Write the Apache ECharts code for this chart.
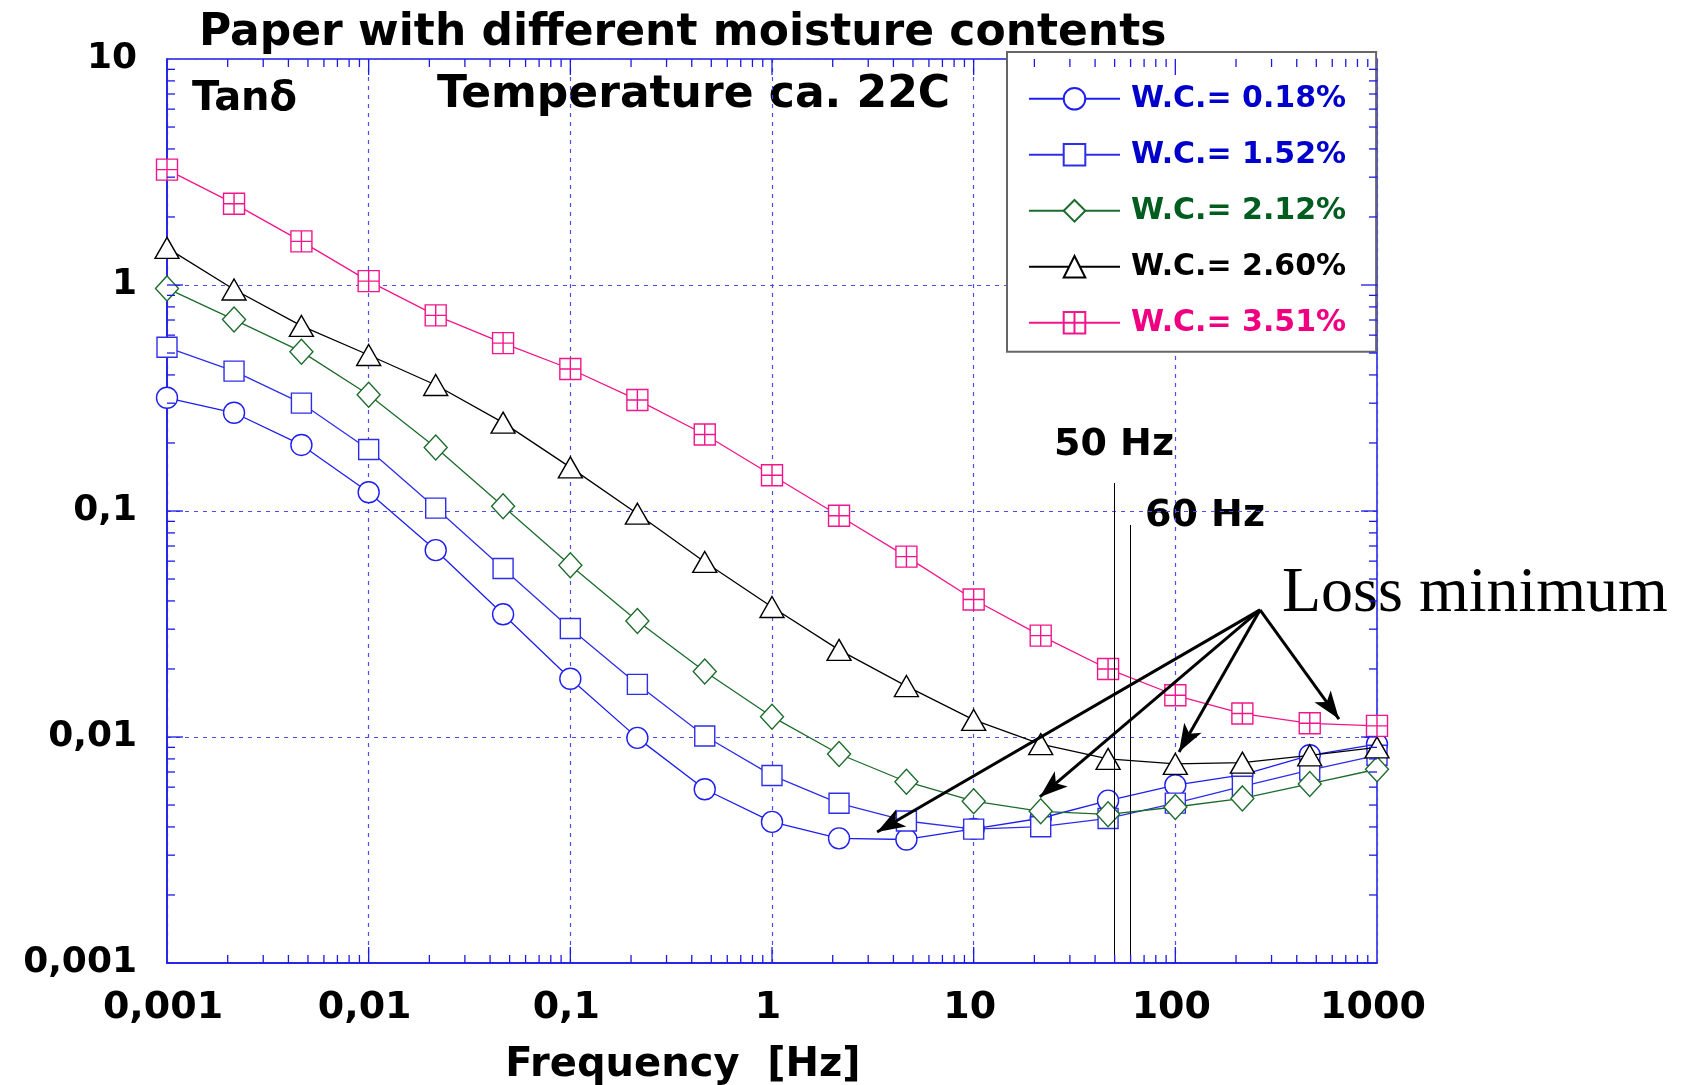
<!DOCTYPE html>
<html><head><meta charset="utf-8">
<script src="https://cdn.jsdelivr.net/npm/echarts@6/dist/echarts.min.js"></script>
<style>html,body{margin:0;padding:0;background:#fff}#c{width:1686px;height:1085px}</style>
</head><body><div id="c"></div>
<script>
// ---- data ----
const freq = [0.001, 0.00215, 0.00464, 0.01, 0.0215, 0.0464, 0.1, 0.215, 0.464, 1, 2.15, 4.64, 10, 21.5, 46.4, 100, 215, 464, 1000];
const wc018 = [0.317, 0.272, 0.196, 0.121, 0.0671, 0.0349, 0.0181, 0.00991, 0.00587, 0.00421, 0.00356, 0.00352, 0.00392, 0.00437, 0.00523, 0.00612, 0.0068, 0.0083, 0.0093];
const wc152 = [0.530, 0.416, 0.300, 0.187, 0.103, 0.0557, 0.0302, 0.0171, 0.0101, 0.00676, 0.00509, 0.00425, 0.00391, 0.00401, 0.00436, 0.0051, 0.00605, 0.00714, 0.0083];
const wc212 = [0.966, 0.703, 0.507, 0.327, 0.191, 0.105, 0.0575, 0.0326, 0.0195, 0.0123, 0.00841, 0.00634, 0.0052, 0.00469, 0.00455, 0.0049, 0.00535, 0.0062, 0.0072];
const wc260 = [1.46, 0.955, 0.659, 0.490, 0.361, 0.246, 0.156, 0.0973, 0.0595, 0.0376, 0.0243, 0.0168, 0.0119, 0.0093, 0.0080, 0.0076, 0.0077, 0.0083, 0.0090];
const wc351 = [3.24, 2.29, 1.56, 1.04, 0.734, 0.553, 0.425, 0.310, 0.218, 0.144, 0.0953, 0.0628, 0.0406, 0.0281, 0.0200, 0.0153, 0.0127, 0.0115, 0.0112];
const seriesNames = ['W.C.= 0.18%', 'W.C.= 1.52%', 'W.C.= 2.12%', 'W.C.= 2.60%', 'W.C.= 3.51%'];

const xTickValues = [0.001, 0.01, 0.1, 1, 10, 100, 1000];
const xTickLabels = ['0,001', '0,01', '0,1', '1', '10', '100', '1000'];
const yTickValues = [0.001, 0.01, 0.1, 1, 10];
const yTickLabels = ['0,001', '0,01', '0,1', '1', '10'];
const minorMultipliers = [2, 3, 4, 5, 6, 7, 8, 9];

// annotations (data coordinates)
const mainsLines = [{f: 50, top: 0.133}, {f: 60, top: 0.0867}];
const arrowStart = [263, 0.0365];
const arrowEnds = [[3.32, 0.0038], [21.3, 0.00543], [104.3, 0.00858], [648, 0.0120]];

// ---- helpers ----
function labelFor(values, labels, v) {
  let best = 0, bd = Infinity;
  values.forEach((t, i) => { const d = Math.abs(Math.log10(t) - Math.log10(v)); if (d < bd) { bd = d; best = i; } });
  return labels[best];
}
const tickData = [];
xTickValues.slice(0, -1).forEach((d, i) => {
  if (i > 0) tickData.push([d, 0.01, 0, 16]);
  minorMultipliers.forEach(m => tickData.push([d * m, 0.01, 0, 8]));
});
yTickValues.slice(0, -1).forEach((d, i) => {
  if (i > 0) tickData.push([1, d, 1, 16]);
  minorMultipliers.forEach(m => tickData.push([1, d * m, 1, 8]));
});

const FONT = "'DejaVu Sans', sans-serif";
const AXIS_BLUE = '#1a1ae6';
const GRID_BLUE = '#4d4de8';

const chart = echarts.init(document.getElementById('c'), null, {renderer: 'canvas'});

function mkSeries(name, vals, color, symbol, size, z) {
  return {
    name, type: 'line', data: freq.map((f, i) => [f, vals[i]]),
    symbol, symbolSize: size, showSymbol: true, z,
    lineStyle: {color, width: 1.3},
    itemStyle: {color: '#ffffff', borderColor: color, borderWidth: 1.4},
    emphasis: {disabled: true}, animation: false
  };
}

const pinkSym = 'path://M0,0L20,0L20,20L0,20Z M10,0L10,20 M0,10L20,10';

const series = [
  mkSeries(seriesNames[0], wc018, '#1e1ef0', 'circle', 21, 3),
  mkSeries(seriesNames[1], wc152, '#2e2ee8', 'rect', 20, 4),
  mkSeries(seriesNames[2], wc212, '#1c6b2c', 'diamond', [23, 25], 5),
  mkSeries(seriesNames[3], wc260, '#000000', 'triangle', [24, 21], 6),
  mkSeries(seriesNames[4], wc351, '#f2168a', pinkSym, [21, 21], 7)
];

// mains frequency lines + arrows
const mlData = mainsLines.map(m => [
  {coord: [m.f, m.top], symbol: 'none', lineStyle: {color: '#000', width: 1, type: 'solid'}},
  {coord: [m.f, 0.001], symbol: 'none'}
]).concat(arrowEnds.map(e => [
  {coord: arrowStart, symbol: 'none', lineStyle: {color: '#000', width: 3, type: 'solid'}},
  {coord: e, symbol: 'arrow', symbolSize: [15, 28]}
]));
series[3].markLine = {
  silent: true, animation: false, symbol: ['none', 'none'],
  label: {show: false}, emphasis: {disabled: true},
  lineStyle: {color: '#000', type: 'solid'},
  itemStyle: {color: '#000'},
  data: mlData, z: 8
};

series.push({
  type: 'custom', name: 'ticks', silent: true, clip: false, z: 9, animation: false,
  encode: {x: 0, y: 1},
  data: tickData,
  renderItem(params, api) {
    const cs = params.coordSys;
    const axis = api.value(2), len = api.value(3);
    const st = {stroke: AXIS_BLUE, lineWidth: 1.3};
    if (axis === 0) {
      const px = api.coord([api.value(0), 0.01])[0];
      const yb = cs.y + cs.height, yt = cs.y;
      return {type: 'group', children: [
        {type: 'line', shape: {x1: px, y1: yb, x2: px, y2: yb - len}, style: st},
        {type: 'line', shape: {x1: px, y1: yt, x2: px, y2: yt + len}, style: st}
      ]};
    } else {
      const py = api.coord([1, api.value(1)])[1];
      const xl = cs.x, xr = cs.x + cs.width;
      return {type: 'group', children: [
        {type: 'line', shape: {x1: xl, y1: py, x2: xl + len, y2: py}, style: st},
        {type: 'line', shape: {x1: xr, y1: py, x2: xr - len, y2: py}, style: st}
      ]};
    }
  }
});

const legendColors = ['#0000cc', '#0000cc', '#005c1f', '#000000', '#f00080'];

const option = {
  animation: false,
  backgroundColor: '#ffffff',
  title: {
    text: 'Paper with different moisture contents',
    left: 199, top: 12, padding: 0,
    textStyle: {fontFamily: FONT, fontWeight: 'bold', fontSize: 44, color: '#000'}
  },
  grid: {left: 167, right: 309, top: 59, bottom: 122, containLabel: false, outerBoundsMode: 'none',
    show: true, borderColor: AXIS_BLUE, borderWidth: 1.5, backgroundColor: 'transparent'},
  xAxis: {
    type: 'log', logBase: 10, min: 0.001, max: 1000,
    name: 'Frequency  [Hz]', nameLocation: 'middle', nameGap: 83,
    nameTextStyle: {fontFamily: FONT, fontWeight: 'bold', fontSize: 40, color: '#000', padding: [0, 178, 0, 0]},
    axisLine: {show: true, lineStyle: {color: AXIS_BLUE, width: 1.5}},
    axisTick: {show: false},
    minorTick: {show: false},
    splitLine: {show: true, lineStyle: {color: GRID_BLUE, type: [4, 5], width: 1.2}},
    axisLabel: {
      margin: 26, fontFamily: FONT, fontWeight: 'bold', fontSize: 38, color: '#000',
      padding: [0, 8, 0, 0],
      formatter: v => labelFor(xTickValues, xTickLabels, v)
    }
  },
  yAxis: {
    type: 'log', logBase: 10, min: 0.001, max: 10,
    axisLine: {show: true, lineStyle: {color: AXIS_BLUE, width: 1.5}},
    axisTick: {show: false},
    minorTick: {show: false},
    splitLine: {show: true, lineStyle: {color: GRID_BLUE, type: [4, 5], width: 1.2}},
    axisLabel: {
      margin: 30, fontFamily: FONT, fontWeight: 'bold', fontSize: 36, color: '#000',
      padding: [0, 0, 8, 0],
      formatter: v => labelFor(yTickValues, yTickLabels, v)
    }
  },
  legend: {
    orient: 'vertical', left: 1007, top: 52,
    padding: [31.8, 30, 14, 21],
    itemWidth: 91, itemHeight: 27, itemGap: 26,
    backgroundColor: '#ffffff', borderColor: '#666666', borderWidth: 2,
    selectedMode: false,
    textStyle: {fontFamily: FONT, fontWeight: 'bold', fontSize: 30, lineHeight: 27, padding: [0, 0, 0, 6]},
    data: seriesNames.map((n, i) => ({name: n, textStyle: {color: legendColors[i]}}))
  },
  graphic: [
    {type: 'text', left: 192, top: 99.5 - 20, style: {text: 'Tanδ', font: "bold 40px 'DejaVu Sans', sans-serif", fill: '#000'}},
    {type: 'text', left: 437, top: 96 - 22, style: {text: 'Temperature ca. 22C', font: "bold 44px 'DejaVu Sans', sans-serif", fill: '#000'}},
    {type: 'text', left: 1054, top: 445 - 19, style: {text: '50 Hz', font: "bold 38px 'DejaVu Sans', sans-serif", fill: '#000'}},
    {type: 'text', left: 1145, top: 516.5 - 19, style: {text: '60 Hz', font: "bold 38px 'DejaVu Sans', sans-serif", fill: '#000'}},
    {type: 'text', left: 1282, top: 594 - 32, style: {text: 'Loss minimum', font: "64px 'Liberation Serif', serif", fill: '#000'}}
  ],
  series
};
chart.setOption(option);
</script></body></html>
